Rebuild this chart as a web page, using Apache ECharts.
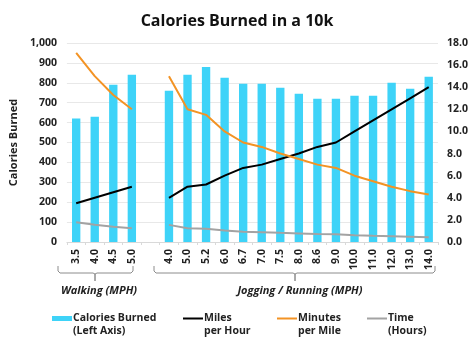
<!DOCTYPE html>
<html><head><meta charset="utf-8">
<script src="https://cdn.jsdelivr.net/npm/echarts@6/dist/echarts.min.js"></script>
<style>html,body{margin:0;padding:0;background:#fff}#c{width:474px;height:346px}</style>
</head><body><div id="c"></div>
<script>
var categories = ['3.5','4.0','4.5','5.0','','4.0','5.0','5.2','6.0','6.7','7.0','7.5','8.0','8.6','9.0','10.0','11.0','12.0','13.0','14.0'];
var calories = [620,630,790,840,null,760,840,880,825,795,795,775,745,720,720,735,735,800,770,830];
var milesPerHour = [3.5,4.0,4.5,5.0,null,4.0,5.0,5.2,6.0,6.7,7.0,7.5,8.0,8.6,9.0,10.0,11.0,12.0,13.0,14.0];
var minutesPerMile = [17.1,15.0,13.3,12.0,null,15.0,12.0,11.5,10.0,9.0,8.6,8.0,7.5,7.0,6.7,6.0,5.5,5.0,4.6,4.3];
var timeHours = [1.78,1.55,1.38,1.24,null,1.55,1.24,1.19,1.04,0.93,0.89,0.83,0.78,0.72,0.69,0.62,0.56,0.52,0.48,0.44];
var leftTicks = [0,1000,100];
var rightTicks = [0,18,2];

var FONT = 'Open Sans';
var chart = echarts.init(document.getElementById('c'), null, {renderer:'canvas'});
var legendText = {fontFamily:FONT,fontWeight:'bold',fontSize:10.5,color:'#222',lineHeight:13,padding:[0,0,0,-4]};
// icon drawn in the upper part of a 26px tall box so it lines up with the first text line
var barIcon = 'path://M0,0M0,4H20V9H0ZM0,26';
var lineIcon = 'path://M0,0M0,5.5H20V7.5H0ZM0,26';
function leg(name, label, left, icon){
  return {data:[name], left:left, top:312, itemWidth:20, itemHeight:26, icon:icon, itemGap:0,
    formatter:function(){return label;}, textStyle:legendText, selectedMode:false, padding:0};
}
function bracket(x1, xm, x2, yTop, yBot, yTick){
  return {type:'polyline',silent:true,shape:{points:[[x1,yTop],[x1,yBot-2],[x1+2,yBot],[xm-2,yBot],[xm,yBot+1],[xm,yTick],[xm,yBot+1],[xm+2,yBot],[x2-2,yBot],[x2,yBot-2],[x2,yTop]]},
    style:{fill:null,stroke:'#8c8c8c',lineWidth:1}};
}
chart.setOption({
  animation:false,
  title:{text:'Calories Burned in a 10k', left:'center', top:8,
    textStyle:{fontFamily:FONT,fontWeight:'bold',fontSize:16,color:'#111'}},
  grid:{left:58,right:36,top:43,bottom:104},
  xAxis:{type:'category',data:categories,
    axisLine:{lineStyle:{color:'#d9d9d9'}},
    axisTick:{show:true,length:3,lineStyle:{color:'#d9d9d9'}},
    axisLabel:{interval:0,rotate:90,margin:7,fontFamily:FONT,fontWeight:'bold',fontSize:10.5,color:'#222'}},
  yAxis:[
    {type:'value',min:leftTicks[0],max:leftTicks[1],interval:leftTicks[2],
      name:'Calories Burned',nameLocation:'middle',nameRotate:90,nameGap:40,
      nameTextStyle:{fontFamily:FONT,fontWeight:'bold',fontSize:11,color:'#222'},
      axisLine:{show:false},axisTick:{show:false},
      splitLine:{lineStyle:{color:'#e8e8e8'}},
      axisLabel:{margin:10,fontFamily:FONT,fontWeight:'bold',fontSize:10.5,color:'#222',
        formatter:function(v){return v.toLocaleString('en-US');}}},
    {type:'value',min:rightTicks[0],max:rightTicks[1],interval:rightTicks[2],position:'right',
      axisLine:{show:false},axisTick:{show:false},splitLine:{show:false},
      axisLabel:{margin:9,fontFamily:FONT,fontWeight:'bold',fontSize:10.5,color:'#222',
        formatter:function(v){return v.toFixed(1);}}}
  ],
  legend:[
    leg('Calories Burned','Calories Burned\n(Left Axis)',52,barIcon),
    leg('Miles per Hour','Miles\nper Hour',183,lineIcon),
    leg('Minutes per Mile','Minutes\nper Mile',277,lineIcon),
    leg('Time (Hours)','Time\n(Hours)',367,lineIcon)
  ],
  series:[
    {name:'Calories Burned',type:'bar',data:calories,barWidth:'45%',itemStyle:{color:'#3ED3F8'}},
    {name:'Miles per Hour',type:'line',yAxisIndex:1,data:milesPerHour,symbol:'none',connectNulls:false,
      lineStyle:{color:'#000',width:2},itemStyle:{color:'#000'}},
    {name:'Minutes per Mile',type:'line',yAxisIndex:1,data:minutesPerMile,symbol:'none',connectNulls:false,
      lineStyle:{color:'#F39324',width:2},itemStyle:{color:'#F39324'}},
    {name:'Time (Hours)',type:'line',yAxisIndex:1,data:timeHours,symbol:'none',connectNulls:false,
      lineStyle:{color:'#A3A3A3',width:2},itemStyle:{color:'#A3A3A3'}}
  ],
  graphic:[
    bracket(58,95,133,266,273,281),
    bracket(154,295,435,266,273,281),
    {type:'text',x:99,y:291,silent:true,style:{text:'Walking (MPH)',align:'center',verticalAlign:'middle',
      font:'italic bold 11px "Open Sans"',fill:'#222'}},
    {type:'text',x:300,y:291,silent:true,style:{text:'Jogging / Running (MPH)',align:'center',verticalAlign:'middle',
      font:'italic bold 11px "Open Sans"',fill:'#222'}}
  ]
});
</script></body></html>
